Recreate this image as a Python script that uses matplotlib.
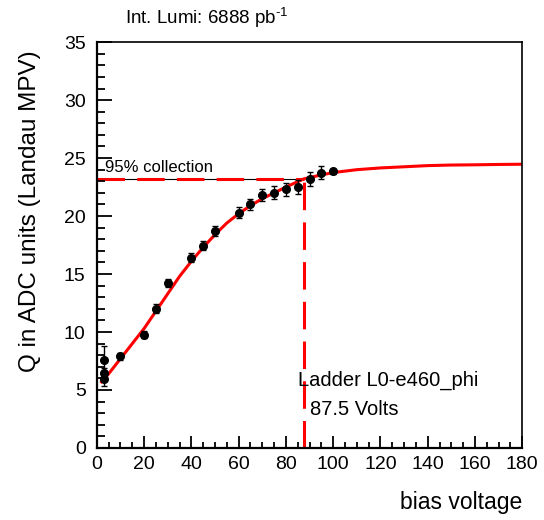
import numpy as np
import matplotlib
matplotlib.use("Agg")
import matplotlib.pyplot as plt
from matplotlib.ticker import MultipleLocator

plt.rcParams['font.family'] = ['Liberation Sans', 'DejaVu Sans']
plt.rcParams['mathtext.fontset'] = 'custom'
plt.rcParams['mathtext.rm'] = 'Liberation Sans'
plt.rcParams['mathtext.default'] = 'rm'

# measured points (bias voltage, Landau MPV, error)
volts = [3, 3, 3, 10, 20, 25, 30, 40, 45, 50, 60, 65, 70, 75, 80, 85, 90, 95, 100]
mpv = [7.6, 6.5, 5.95, 7.9, 9.75, 12.0, 14.2, 16.4, 17.45, 18.7, 20.3, 21.0,
       21.8, 22.0, 22.3, 22.5, 23.2, 23.75, 23.85]
err = [1.2, 0.4, 0.6, 0.3, 0.3, 0.4, 0.35, 0.4, 0.4, 0.45, 0.45, 0.5,
       0.5, 0.55, 0.55, 0.6, 0.6, 0.55, 0.2]

# fit curve
fit_x = [2, 5, 10, 15, 20, 25, 30, 35, 40, 45, 50, 55, 60, 65, 70, 75, 80,
         87.5, 95, 100, 110, 120, 130, 140, 150, 160, 170, 180]
fit_y = [5.7, 6.4, 7.7, 9.0, 10.3, 11.8, 13.3, 14.8, 16.1, 17.3, 18.4, 19.4,
         20.2, 20.9, 21.5, 22.0, 22.5, 23.2, 23.55, 23.75, 24.0, 24.15, 24.25,
         24.35, 24.4, 24.42, 24.45, 24.47]

v95 = 87.5
q95 = 23.2

fig = plt.figure(figsize=(5.44, 5.2), dpi=100)
ax = fig.add_axes([0.178, 0.1385, 0.782, 0.7805])

ax.plot(fit_x, fit_y, color='red', lw=2.2, zorder=2)
ax.errorbar(volts, mpv, yerr=err, fmt='o', color='black', ms=5.5,
            elinewidth=1, capsize=2.5, capthick=1, zorder=3)

# 95% collection lines
ax.plot([0, v95], [q95, q95], color='black', lw=0.8, zorder=1)
ax.plot([0, v95], [q95, q95], color='red', lw=2.2, dashes=(9, 4), zorder=1)
ax.plot([v95, v95], [0, q95], color='red', lw=2.2, dashes=(9, 4), zorder=1)

ax.text(3.4, 23.5, "95% collection", fontsize=12, ha='left', va='bottom')
ax.text(85.2, 5.8, "Ladder L0-e460_phi", fontsize=14.5, ha='left', va='center')
ax.text(90.2, 3.3, "87.5 Volts", fontsize=14.5, ha='left', va='center')

ax.set_xlim(0, 180)
ax.set_ylim(0, 35)
ax.xaxis.set_major_locator(MultipleLocator(20))
ax.xaxis.set_minor_locator(MultipleLocator(5))
ax.yaxis.set_major_locator(MultipleLocator(5))
ax.yaxis.set_minor_locator(MultipleLocator(1))
ax.tick_params(axis='both', which='both', direction='in', labelsize=14,
               top=False, right=False, width=1.3)
ax.tick_params(axis='y', which='major', length=11, pad=8)
ax.tick_params(axis='y', which='minor', length=5.5)
ax.tick_params(axis='x', which='major', length=8.5, pad=6)
ax.tick_params(axis='x', which='minor', length=4.3)
for s in ['left', 'bottom']:
    ax.spines[s].set_linewidth(1.6)
for s in ['top', 'right']:
    ax.spines[s].set_linewidth(1.2)

fig.text(30 / 544, 1 - 211 / 520, "Q in ADC units (Landau MPV)", fontsize=17.5,
         rotation=90, ha='center', va='center')
fig.text(0.96, 1 - 503 / 520, "bias voltage", fontsize=16.5, ha='right', va='center')
fig.text(125 / 544, 1 - 18 / 520, "Int. Lumi: 6888 pb$^{\\text{-1}}$", fontsize=13.5,
         ha='left', va='center')

fig.savefig("out.png", dpi=100)
